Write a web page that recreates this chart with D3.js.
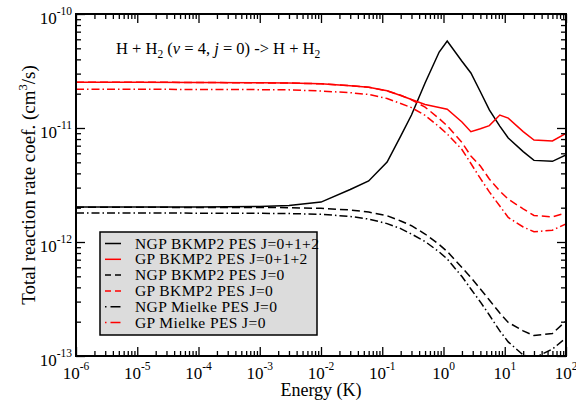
<!DOCTYPE html>
<html>
<head>
<meta charset="utf-8">
<script src="https://cdn.jsdelivr.net/npm/d3@7"></script>
<style>
  body { margin: 0; background: #fff; }
  svg { font-family: "Liberation Serif", "Times New Roman", serif; }
</style>
</head>
<body>
<div id="chart"></div>
<script>
// energy grid (K), shared by every curve
var energy = [1e-6, 1e-5, 1e-4, 1e-3, 3e-3, 1e-2, 3e-2, 6e-2, 0.12, 0.2, 0.3, 0.5,
              0.85, 1.15, 2, 2.8, 4, 5.6, 8.3, 11.4, 20, 30, 60, 100];

// rate coefficients (cm^3/s)
var ngpBkmpAll = [2.03e-12, 2.03e-12, 2.03e-12, 2.05e-12, 2.09e-12, 2.24e-12, 2.89e-12, 3.43e-12,
                  5.03e-12, 8.5e-12, 1.30e-11, 2.48e-11, 4.64e-11, 5.80e-11, 3.85e-11, 3.04e-11,
                  2.08e-11, 1.44e-11, 1.04e-11, 8.17e-12, 6.21e-12, 5.20e-12, 5.10e-12, 5.80e-12];
var gpBkmpAll = [2.52e-11, 2.52e-11, 2.51e-11, 2.49e-11, 2.48e-11, 2.44e-11, 2.35e-11, 2.28e-11,
                 2.12e-11, 1.93e-11, 1.78e-11, 1.61e-11, 1.51e-11, 1.46e-11, 1.13e-11, 9.28e-12,
                 9.84e-12, 1.05e-11, 1.30e-11, 1.22e-11, 9.30e-12, 7.85e-12, 7.69e-12, 8.95e-12];
var ngpBkmpJ0 = [2.015e-12, 2.015e-12, 2.01e-12, 2.01e-12, 2.00e-12, 1.975e-12, 1.91e-12, 1.83e-12,
                 1.70e-12, 1.53e-12, 1.39e-12, 1.175e-12, 9.51e-13, 8.26e-13, 5.97e-13, 4.88e-13,
                 3.87e-13, 3.10e-13, 2.38e-13, 1.97e-13, 1.66e-13, 1.51e-13, 1.575e-13, 2.03e-13];
var gpBkmpJ0 = [2.52e-11, 2.52e-11, 2.51e-11, 2.49e-11, 2.48e-11, 2.44e-11, 2.35e-11, 2.28e-11,
                2.115e-11, 1.94e-11, 1.77e-11, 1.525e-11, 1.21e-11, 1.045e-11, 7.47e-12, 5.68e-12,
                4.64e-12, 3.57e-12, 2.80e-12, 2.38e-12, 1.95e-12, 1.71e-12, 1.66e-12, 1.80e-12];
var ngpMielkeJ0 = [1.80e-12, 1.80e-12, 1.79e-12, 1.785e-12, 1.775e-12, 1.75e-12, 1.675e-12, 1.59e-12,
                   1.45e-12, 1.31e-12, 1.175e-12, 1.01e-12, 8.18e-13, 7.09e-13, 4.98e-13, 3.87e-13,
                   2.98e-13, 2.29e-13, 1.66e-13, 1.33e-13, 1.02e-13, 9.6e-14, 1.15e-13, 1.44e-13];
var gpMielkeJ0 = [2.185e-11, 2.185e-11, 2.18e-11, 2.17e-11, 2.16e-11, 2.11e-11, 2.04e-11, 1.97e-11,
                  1.815e-11, 1.64e-11, 1.51e-11, 1.29e-11, 1.025e-11, 8.86e-12, 6.48e-12, 4.88e-12,
                  3.61e-12, 2.75e-12, 2.07e-12, 1.64e-12, 1.354e-12, 1.23e-12, 1.27e-12, 1.44e-12];

var seriesNames = ["NGP BKMP2 PES J=0+1+2", "GP BKMP2 PES J=0+1+2", "NGP BKMP2 PES J=0",
                   "GP BKMP2 PES J=0", "NGP Mielke PES J=0", "GP Mielke PES J=0"];

// decade exponents used for the tick labels
var xTickExps = [-6, -5, -4, -3, -2, -1, 0, 1, 2];
var yTickExps = [-13, -12, -11, -10];

var svgWidth = 576, svgHeight = 400;
var margin = { top: 14, right: 10, bottom: 44, left: 76 };
var width = svgWidth - margin.left - margin.right;
var height = svgHeight - margin.top - margin.bottom;

var svg = d3.select("#chart").append("svg")
  .attr("width", svgWidth)
  .attr("height", svgHeight);

var chartGroup = svg.append("g")
  .attr("transform", `translate(${margin.left}, ${margin.top})`);

var xScale = d3.scaleLog().domain([1e-6, 1e2]).range([0, width]);
var yScale = d3.scaleLog().domain([1e-13, 1e-10]).range([height, 0]);

// major and minor tick values
var xMajor = xTickExps.map(e => Math.pow(10, e));
var yMajor = yTickExps.map(e => Math.pow(10, e));
function minors(exps) {
  var out = [];
  for (var i = 0; i < exps.length - 1; i++) {
    for (var m = 2; m <= 9; m++) out.push(m * Math.pow(10, exps[i]));
  }
  return out;
}
var xMinor = minors(xTickExps);
var yMinor = minors(yTickExps);

// series table
var dashed = "8,4";
var dashDot = "8,3,1.5,3";
var series = [
  { name: seriesNames[0], values: ngpBkmpAll, color: "#000", dash: null, legendDash: null },
  { name: seriesNames[1], values: gpBkmpAll, color: "#ff0000", dash: null, legendDash: null },
  { name: seriesNames[2], values: ngpBkmpJ0, color: "#000", dash: dashed, legendDash: "6,4" },
  { name: seriesNames[3], values: gpBkmpJ0, color: "#ff0000", dash: dashed, legendDash: "6,4" },
  { name: seriesNames[4], values: ngpMielkeJ0, color: "#000", dash: dashDot, legendDash: "1.5,4,10,20" },
  { name: seriesNames[5], values: gpMielkeJ0, color: "#ff0000", dash: dashDot, legendDash: "1.5,4,10,20" }
];

// clip curves to the plot frame
svg.append("defs").append("clipPath").attr("id", "plotClip")
  .append("rect").attr("width", width).attr("height", height);

var line = d3.line()
  .x(d => xScale(d[0]))
  .y(d => yScale(d[1]));

chartGroup.append("g").attr("clip-path", "url(#plotClip)")
  .selectAll("path")
  .data(series)
  .enter()
  .append("path")
  .attr("d", s => line(energy.map((e, i) => [e, s.values[i]])))
  .attr("fill", "none")
  .attr("stroke", s => s.color)
  .attr("stroke-width", 1.5)
  .attr("stroke-dasharray", s => s.dash);

// axes: ticks point inward on all four sides
function drawAxis(axisFn, scale, vals, size, transform) {
  var g = chartGroup.append("g")
    .attr("transform", transform)
    .call(axisFn(scale).tickValues(vals).tickSize(-size).tickSizeOuter(0).tickFormat(""));
  g.select(".domain").remove();
  g.selectAll("line").attr("stroke", "#000").attr("stroke-width", 1.3);
}
drawAxis(d3.axisBottom, xScale, xMajor, 9, `translate(0, ${height})`);
drawAxis(d3.axisBottom, xScale, xMinor, 5, `translate(0, ${height})`);
drawAxis(d3.axisTop, xScale, xMajor, 9, "translate(0, 0)");
drawAxis(d3.axisTop, xScale, xMinor, 5, "translate(0, 0)");
drawAxis(d3.axisLeft, yScale, yMajor, 9, "translate(0, 0)");
drawAxis(d3.axisLeft, yScale, yMinor, 5, "translate(0, 0)");
drawAxis(d3.axisRight, yScale, yMajor, 9, `translate(${width}, 0)`);
drawAxis(d3.axisRight, yScale, yMinor, 5, `translate(${width}, 0)`);

chartGroup.append("rect")
  .attr("width", width).attr("height", height)
  .attr("fill", "none").attr("stroke", "#000").attr("stroke-width", 2);

// tick labels as 10^n
var xLabels = chartGroup.selectAll(".xlab")
  .data(xTickExps).enter().append("text")
  .attr("x", e => xScale(Math.pow(10, e)))
  .attr("y", height + 23)
  .attr("text-anchor", "middle")
  .attr("font-size", 17);
xLabels.append("tspan").text("10");
xLabels.append("tspan").attr("dy", -9).attr("font-size", 11.5).text(e => e);

var yLabels = chartGroup.selectAll(".ylab")
  .data(yTickExps).enter().append("text")
  .attr("x", -4)
  .attr("y", e => yScale(Math.pow(10, e)) + 10)
  .attr("text-anchor", "end")
  .attr("font-size", 17);
yLabels.append("tspan").text("10");
yLabels.append("tspan").attr("dy", -9).attr("font-size", 11.5).text(e => e);

// axis titles
chartGroup.append("text")
  .attr("x", width / 2)
  .attr("y", height + 40)
  .attr("text-anchor", "middle")
  .attr("font-size", 18)
  .text("Energy (K)");

var yTitle = chartGroup.append("text")
  .attr("transform", `translate(${-41}, ${height / 2}) rotate(-90)`)
  .attr("text-anchor", "middle")
  .attr("font-size", 19);
yTitle.append("tspan").text("Total reaction rate coef. (cm");
yTitle.append("tspan").attr("dy", -8).attr("font-size", 12.5).text("3");
yTitle.append("tspan").attr("dy", 8).text("/s)");

// reaction annotation
var note = chartGroup.append("text")
  .attr("x", 40)
  .attr("y", 40)
  .attr("font-size", 16.5);
note.append("tspan").text("H + H");
note.append("tspan").attr("dy", 4).attr("font-size", 11.5).text("2");
note.append("tspan").attr("dy", -4).text(" (");
note.append("tspan").attr("font-style", "italic").text("v");
note.append("tspan").text(" = 4, ");
note.append("tspan").attr("font-style", "italic").text("j");
note.append("tspan").text(" = 0) -> H + H");
note.append("tspan").attr("dy", 4).attr("font-size", 11.5).text("2");

// legend
var legend = chartGroup.append("g").attr("transform", "translate(24, 218)");
legend.append("rect")
  .attr("width", 217).attr("height", 103)
  .attr("fill", "#dcdcdc").attr("stroke", "#000").attr("stroke-width", 1.5);
var rows = legend.selectAll(".row")
  .data(series).enter().append("g")
  .attr("transform", (d, i) => `translate(0, ${11.5 + i * 15.8})`);
rows.append("line")
  .attr("x1", 5).attr("x2", 21).attr("y1", 0).attr("y2", 0)
  .attr("stroke", d => d.color).attr("stroke-width", 1.5)
  .attr("stroke-dasharray", d => d.legendDash);
rows.append("text")
  .attr("x", 35).attr("y", 5)
  .attr("font-size", 15.5)
  .attr("letter-spacing", 0.4)
  .text(d => d.name);
</script>
</body>
</html>
